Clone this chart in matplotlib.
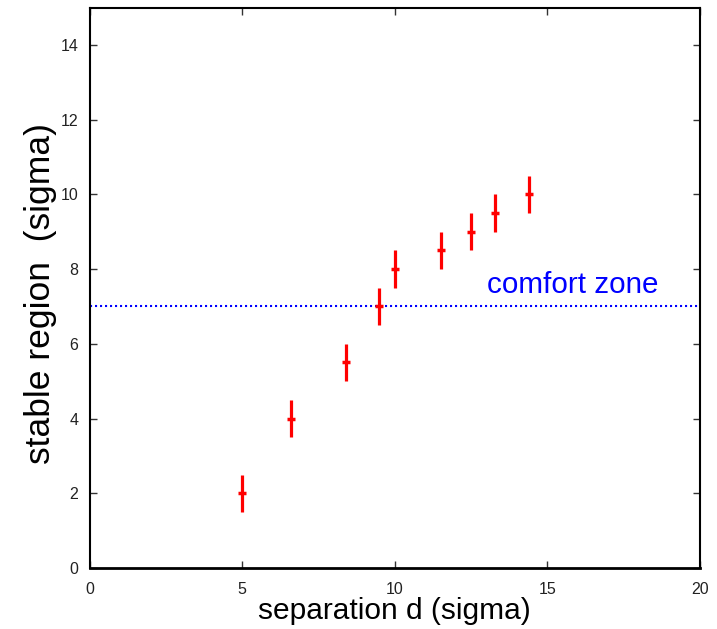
import matplotlib
matplotlib.use("Agg")
import matplotlib.pyplot as plt

# Measured stable region versus separation, with symmetric uncertainties
separation = [5.0, 6.6, 8.4, 9.5, 10.0, 11.5, 12.5, 13.3, 14.4]
stable_region = [2.0, 4.0, 5.5, 7.0, 8.0, 8.5, 9.0, 9.5, 10.0]
stable_err = [0.5, 0.5, 0.5, 0.5, 0.5, 0.5, 0.5, 0.5, 0.5]

comfort_level = 7.0
x_ticks = [0, 5, 10, 15, 20]
y_ticks = [0, 2, 4, 6, 8, 10, 12, 14]

plt.rcParams["font.family"] = ["Liberation Sans", "DejaVu Sans"]

W, H = 717, 629
fig = plt.figure(figsize=(W / 100, H / 100), dpi=100)
ax = fig.add_axes([89.5 / W, 1 - 568 / H, (700 - 89.5) / W, (568 - 7.5) / H])

ax.errorbar(separation, stable_region, yerr=stable_err, fmt="_", color="#ff0000",
            ecolor="#ff0000", elinewidth=2.3, capsize=0, markersize=5.5,
            markeredgewidth=2.5, zorder=3)

ax.axhline(comfort_level, color="#0000ff", linewidth=1.5, linestyle=(0, (1, 1.4)),
           zorder=2)
ax.text(13.02, 7.36, "comfort zone", color="#0000ff", fontsize=21.3,
        ha="left", va="baseline")

ax.set_xlim(0, 20)
ax.set_ylim(0, 15)
ax.set_xticks(x_ticks)
ax.set_yticks(y_ticks)
ax.tick_params(direction="in", length=5, width=1, color="#333333",
               top=True, right=True, labelsize=11.5, labelcolor="#222222", pad=8)
ax.tick_params(axis="x", pad=10)

for side in ["left", "right", "top"]:
    ax.spines[side].set_linewidth(1.5)
ax.spines["bottom"].set_linewidth(2)

ax.set_xlabel("separation d (sigma)", fontsize=21.5, labelpad=0)
ax.set_ylabel("stable region  (sigma)", fontsize=25.5)
ax.yaxis.set_label_coords(-0.054, 0.49)

fig.savefig("out.png", dpi=100)
